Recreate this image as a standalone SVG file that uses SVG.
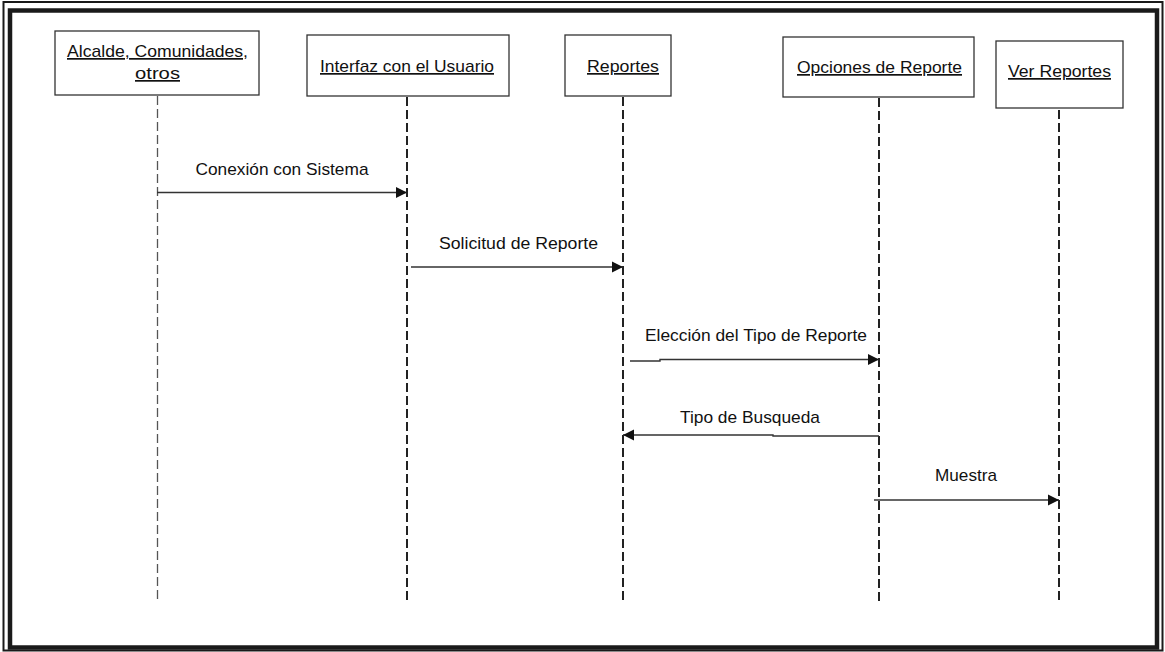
<svg xmlns="http://www.w3.org/2000/svg" width="1165" height="652" viewBox="0 0 1165 652">
  <style>
    .frame-outer { fill: none; stroke: #1a1a1a; stroke-width: 2; }
    .frame-inner { fill: none; stroke: #1a1a1a; stroke-width: 4.5; }
    .box { fill: #ffffff; stroke: #333333; stroke-width: 1.3; }
    .label { font-family: "Liberation Sans", Arial, sans-serif; font-size: 17px; fill: #111111; text-anchor: middle; text-decoration: underline; }
    .msg { font-family: "Liberation Sans", Arial, sans-serif; font-size: 17px; fill: #111111; text-anchor: middle; }
    .life { fill: none; stroke: #222222; stroke-width: 2; stroke-dasharray: 9 4; }
    .life-thin { fill: none; stroke: #555555; stroke-width: 1.3; stroke-dasharray: 9 4; }
    .arrow { fill: none; stroke: #333333; stroke-width: 1.4; marker-end: url(#head); }
  </style>
  <defs>
    <marker id="head" viewBox="0 0 10 10" refX="10" refY="5" markerWidth="11" markerHeight="12" markerUnits="userSpaceOnUse" orient="auto">
      <path d="M0,0 L10,5 L0,10 Z" fill="#111111"/>
    </marker>
  </defs>

  <rect width="1165" height="652" fill="#ffffff"/>
  <!-- double border -->
  <rect class="frame-outer" x="3.5" y="2" width="1159" height="648.5"/>
  <rect class="frame-inner" x="10" y="10.5" width="1147" height="637"/>

  <!-- lifelines and messages -->
  <g id="connectors">
    <line class="life-thin" x1="157.5" y1="96" x2="157.5" y2="600"/>
    <line class="life" x1="407" y1="97" x2="407" y2="601"/>
    <line class="life" x1="623" y1="97" x2="623" y2="601"/>
    <line class="life" x1="879" y1="98" x2="879" y2="602"/>
    <line class="life" x1="1059" y1="110" x2="1059" y2="603"/>

    <path class="arrow" d="M157,192.5 L407,192.5"/>
    <path class="arrow" d="M411,267 L623,267"/>
    <path class="arrow" d="M630,361 L660,361 L660,359.5 L879,359.5"/>
    <path class="arrow" d="M879,436 L773,436 L773,435 L623,435"/>
    <path class="arrow" d="M874,500 L1059,500"/>

    <text class="msg" x="282" y="175" textLength="173" lengthAdjust="spacingAndGlyphs">Conexión con Sistema</text>
    <text class="msg" x="518.5" y="249" textLength="159" lengthAdjust="spacingAndGlyphs">Solicitud de Reporte</text>
    <text class="msg" x="756" y="341" textLength="222" lengthAdjust="spacingAndGlyphs">Elección del Tipo de Reporte</text>
    <text class="msg" x="750" y="423" textLength="140" lengthAdjust="spacingAndGlyphs">Tipo de Busqueda</text>
    <text class="msg" x="966" y="481" textLength="62" lengthAdjust="spacingAndGlyphs">Muestra</text>
  </g>

  <g id="alcalde">
    <rect class="box" x="55" y="31" width="204" height="64"/>
    <text class="label" x="157.5" y="57" textLength="181" lengthAdjust="spacingAndGlyphs">Alcalde, Comunidades,</text>
    <text class="label" x="157.5" y="79" textLength="45" lengthAdjust="spacingAndGlyphs"> otros</text>
  </g>

  <g id="interfaz">
    <rect class="box" x="307" y="35" width="202" height="61"/>
    <text class="label" x="407" y="72" textLength="174" lengthAdjust="spacingAndGlyphs">Interfaz con el Usuario</text>
  </g>

  <g id="reportes">
    <rect class="box" x="565" y="35" width="106" height="61"/>
    <text class="label" x="623" y="72" textLength="72" lengthAdjust="spacingAndGlyphs">Reportes</text>
  </g>

  <g id="opciones">
    <rect class="box" x="783" y="37" width="191" height="60"/>
    <text class="label" x="879.5" y="73" textLength="165" lengthAdjust="spacingAndGlyphs">Opciones de Reporte</text>
  </g>

  <g id="ver-reportes">
    <rect class="box" x="996" y="41" width="127" height="67"/>
    <text class="label" x="1059.5" y="77" textLength="103" lengthAdjust="spacingAndGlyphs">Ver Reportes</text>
  </g>
</svg>
